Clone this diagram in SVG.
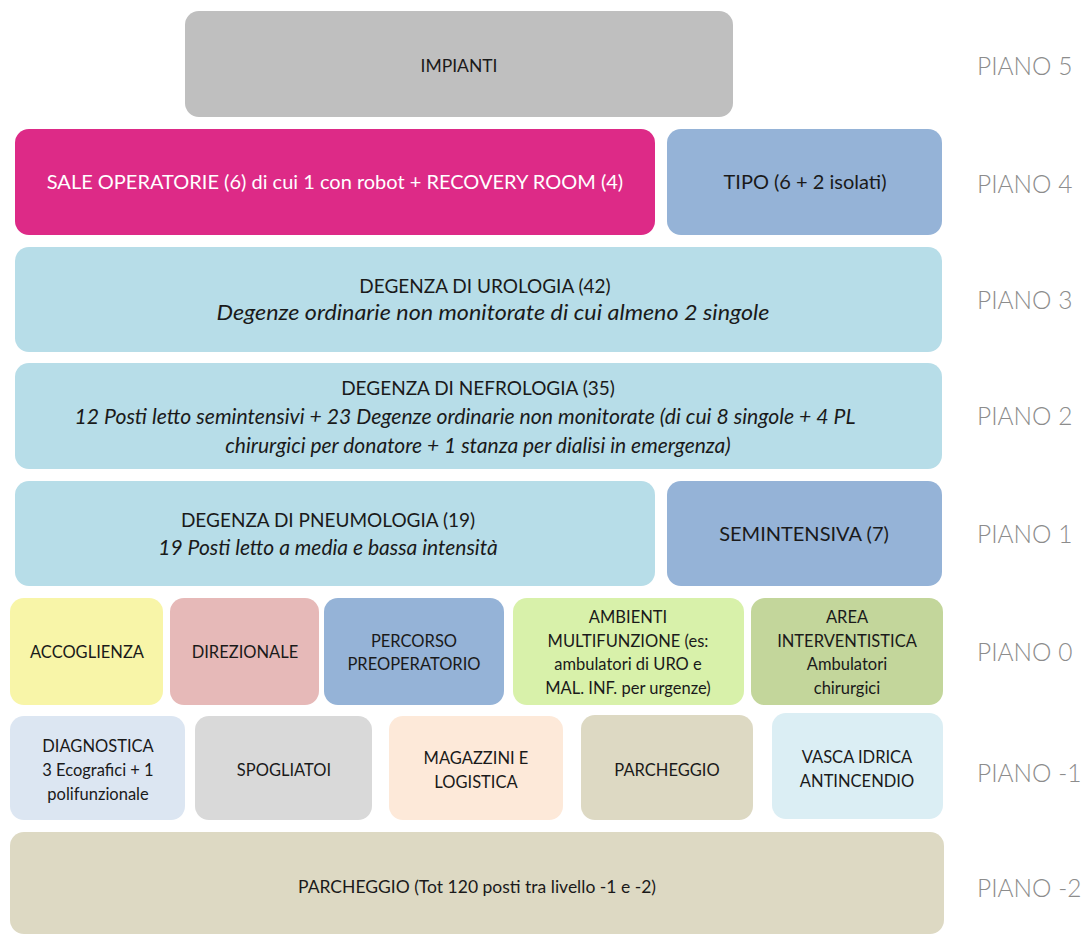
<svg xmlns="http://www.w3.org/2000/svg" width="1091" height="935" viewBox="0 0 1091 935">
<style>
text{font-family:Lato,"Open Sans","Liberation Sans",sans-serif;fill:#1a1a1a;text-anchor:middle}
.b{font-size:20px}
.h{font-size:19px}
.s{font-size:16.5px}
.i{font-style:italic;font-size:21px}
.w{fill:#ffffff}
.p{font-size:24.5px;fill:#8c8c8c;text-anchor:start;font-weight:300}
rect{rx:14px;ry:14px}
</style>
<rect width="1091" height="935" fill="#ffffff" style="rx:0"/>
<g id="impianti"><rect x="185" y="11" width="548" height="106" fill="#BFBFBF"/><text class="s" x="459" y="72" style="font-size:17.5px">IMPIANTI</text></g>
<g id="sale"><rect x="15" y="129" width="640" height="106" fill="#DD2A87"/><text class="b w" x="335" y="189">SALE OPERATORIE (6) di cui 1 con robot + RECOVERY ROOM (4)</text></g>
<g id="tipo"><rect x="667" y="129" width="275" height="106" fill="#95B3D7"/><text class="b" x="805" y="189">TIPO (6 + 2 isolati)</text></g>
<g id="urologia"><rect x="15" y="247" width="927" height="105" fill="#B7DDE8"/><text class="h" x="485" y="293">DEGENZA DI UROLOGIA (42)</text><text class="i" x="493" y="320" textLength="553" lengthAdjust="spacingAndGlyphs">Degenze ordinarie non monitorate di cui almeno 2 singole</text></g>
<g id="nefrologia"><rect x="15" y="363" width="927" height="106" fill="#B7DDE8"/><text class="h" x="478" y="395">DEGENZA DI NEFROLOGIA (35)</text><text class="i" x="465" y="424" textLength="781" lengthAdjust="spacingAndGlyphs">12 Posti letto semintensivi  + 23 Degenze ordinarie non monitorate (di cui 8 singole + 4 PL</text><text class="i" x="478" y="453">chirurgici per donatore + 1 stanza per dialisi in emergenza)</text></g>
<g id="pneumologia"><rect x="15" y="481" width="640" height="105" fill="#B7DDE8"/><text class="h" x="328" y="527">DEGENZA DI PNEUMOLOGIA (19)</text><text class="i" x="328" y="555">19 Posti letto a media e bassa intensità</text></g>
<g id="semintensiva"><rect x="667" y="481" width="275" height="105" fill="#95B3D7"/><text class="b" x="804" y="541">SEMINTENSIVA (7)</text></g>
<g id="accoglienza"><rect x="10" y="598" width="153" height="107" fill="#F8F5A8"/><text class="s" x="87" y="658">ACCOGLIENZA</text></g>
<g id="direzionale"><rect x="170" y="598" width="149" height="107" fill="#E6B9B8"/><text class="s" x="245" y="658">DIREZIONALE</text></g>
<g id="percorso"><rect x="324" y="598" width="180" height="107" fill="#95B3D7"/><text class="s" x="414" y="647">PERCORSO</text><text class="s" x="414" y="670">PREOPERATORIO</text></g>
<g id="ambienti"><rect x="513" y="598" width="231" height="107" fill="#D8F1AA"/><text class="s" x="628" y="623">AMBIENTI</text><text class="s" x="628" y="647">MULTIFUNZIONE (es:</text><text class="s" x="628" y="670">ambulatori di URO e</text><text class="s" x="628" y="694">MAL. INF. per urgenze)</text></g>
<g id="area"><rect x="751" y="598" width="192" height="107" fill="#C3D69B"/><text class="s" x="847" y="623">AREA</text><text class="s" x="847" y="647">INTERVENTISTICA</text><text class="s" x="847" y="670">Ambulatori</text><text class="s" x="847" y="694">chirurgici</text></g>
<g id="diagnostica"><rect x="10" y="716" width="175" height="104" fill="#DCE6F2"/><text class="s" x="98" y="752">DIAGNOSTICA</text><text class="s" x="98" y="776">3 Ecografici + 1</text><text class="s" x="98" y="800">polifunzionale</text></g>
<g id="spogliatoi"><rect x="195" y="716" width="177" height="104" fill="#D9D9D9"/><text class="s" x="284" y="776">SPOGLIATOI</text></g>
<g id="magazzini"><rect x="389" y="716" width="174" height="104" fill="#FDE9D9"/><text class="s" x="476" y="764">MAGAZZINI E</text><text class="s" x="476" y="788">LOGISTICA</text></g>
<g id="parcheggio1"><rect x="581" y="715" width="172" height="105" fill="#DDD9C3"/><text class="s" x="667" y="776">PARCHEGGIO</text></g>
<g id="vasca"><rect x="772" y="713" width="171" height="106" fill="#DBEEF4"/><text class="s" x="857" y="763">VASCA IDRICA</text><text class="s" x="857" y="787">ANTINCENDIO</text></g>
<g id="parcheggio2"><rect x="10" y="832" width="934" height="102" fill="#DDD9C3"/><text class="s" x="477" y="893" style="font-size:17.5px">PARCHEGGIO  (Tot 120 posti tra livello -1 e -2)</text></g>
<g id="labels">
<text class="p" x="977" y="75">PIANO 5</text>
<text class="p" x="977" y="193">PIANO 4</text>
<text class="p" x="977" y="309">PIANO 3</text>
<text class="p" x="977" y="425">PIANO 2</text>
<text class="p" x="977" y="543">PIANO 1</text>
<text class="p" x="977" y="661">PIANO 0</text>
<text class="p" x="977" y="782">PIANO -1</text>
<text class="p" x="977" y="897">PIANO -2</text>
</g>
<g id="connectors"></g>
</svg>
